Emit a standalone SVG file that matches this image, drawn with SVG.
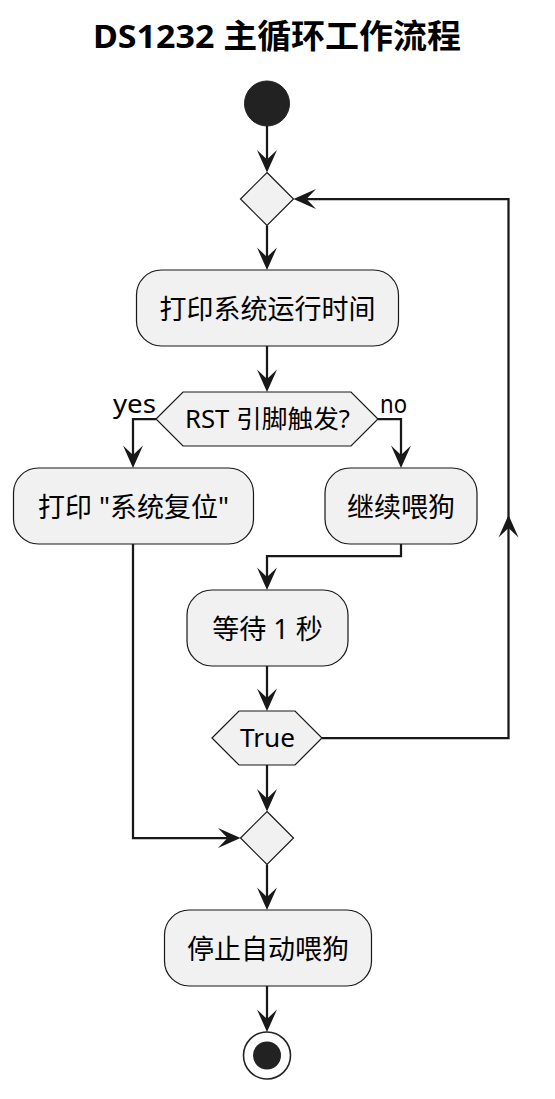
<svg xmlns="http://www.w3.org/2000/svg" width="555" height="1099" viewBox="0 0 555 1099">
<style>
.t{font-family:"Noto Sans","Noto Sans CJK SC",sans-serif;fill:#000;}
.act{font-size:27px;text-anchor:middle;}
.cond{font-size:24.75px;text-anchor:middle;}
.lbl{font-size:25px;}
.title{font-size:33px;font-weight:bold;text-anchor:middle;}
.box{fill:#F1F1F1;stroke:#181818;stroke-width:1.2;}
.link{fill:none;stroke:#181818;stroke-width:2.25;}
</style>
<defs>
<marker id="ah" viewBox="-10 -11 25 22" refX="0" refY="0" markerWidth="25" markerHeight="22" markerUnits="userSpaceOnUse" orient="auto">
<path d="M13,0 L-9.5,-10 L0,0 L-9.5,10 Z" fill="#181818"/>
</marker>
</defs>
<rect width="555" height="1099" fill="#FFFFFF"/>
<text class="t title" x="277" y="48" textLength="368" lengthAdjust="spacingAndGlyphs">DS1232 主循环工作流程</text>
<g id="start"><circle cx="267" cy="103.5" r="22.5" fill="#222222" stroke="#222222" stroke-width="1"/></g>
<g id="merge1"><polygon class="box" points="267,172.5 293.5,199 267,225.5 240.5,199"/></g>
<g id="a1"><rect class="box" x="136.5" y="270" width="262" height="76" rx="25"/><text class="t act" x="267.5" y="318.5">打印系统运行时间</text></g>
<g id="c1"><polygon class="box" points="156,419 183,392 351,392 378,419 351,446 183,446"/><text class="t cond" x="267.5" y="428" textLength="165" lengthAdjust="spacingAndGlyphs">RST 引脚触发?</text></g>
<g id="a2"><rect class="box" x="13.5" y="468" width="240" height="76" rx="25"/><text class="t act" x="133.5" y="517">打印 "系统复位"</text></g>
<g id="a3"><rect class="box" x="325" y="468" width="152" height="76" rx="25"/><text class="t act" x="401" y="517">继续喂狗</text></g>
<g id="a4"><rect class="box" x="187" y="590" width="161" height="76" rx="25"/><text class="t act" x="267.5" y="639">等待 1 秒</text></g>
<g id="c2"><polygon class="box" points="212,738 239,711 295,711 322,738 295,765 239,765"/><text class="t cond" x="267.5" y="746.5" textLength="55" lengthAdjust="spacingAndGlyphs">True</text></g>
<g id="merge2"><polygon class="box" points="267,811.5 293.5,838 267,864.5 240.5,838"/></g>
<g id="a5"><rect class="box" x="164.5" y="910" width="207" height="76" rx="25"/><text class="t act" x="268" y="959">停止自动喂狗</text></g>
<g id="end"><circle cx="267" cy="1055.5" r="23.5" fill="none" stroke="#222222" stroke-width="1.6"/><circle cx="267" cy="1055.5" r="14" fill="#222222"/></g>
<g id="connectors">
<path class="link" d="M267,126 L267,159.5" marker-end="url(#ah)"/>
<path class="link" d="M267,225.5 L267,257" marker-end="url(#ah)"/>
<path class="link" d="M267,346 L267,379" marker-end="url(#ah)"/>
<path class="link" d="M156,419 L133,419 L133,455" marker-end="url(#ah)"/>
<path class="link" d="M378,419 L401,419 L401,455" marker-end="url(#ah)"/>
<path class="link" d="M401,544 L401,556 L267,556 L267,577" marker-end="url(#ah)"/>
<path class="link" d="M267,666 L267,698" marker-end="url(#ah)"/>
<path class="link" d="M322,738 L508.5,738 L508.5,528" marker-end="url(#ah)"/>
<path class="link" d="M508.5,528 L508.5,199 L306.5,199" marker-end="url(#ah)"/>
<path class="link" d="M267,765 L267,798.5" marker-end="url(#ah)"/>
<path class="link" d="M133,544 L133,838 L227.5,838" marker-end="url(#ah)"/>
<path class="link" d="M267,864.5 L267,897" marker-end="url(#ah)"/>
<path class="link" d="M267,986 L267,1019" marker-end="url(#ah)"/>
</g>
<g id="labels">
<text class="t lbl" x="113" y="413" textLength="43" lengthAdjust="spacingAndGlyphs">yes</text>
<text class="t lbl" x="380" y="413" textLength="27" lengthAdjust="spacingAndGlyphs">no</text>
</g>
</svg>
